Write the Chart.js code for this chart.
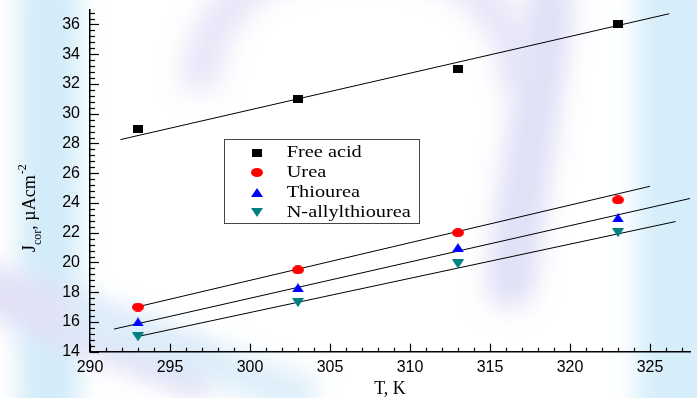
<!DOCTYPE html>
<html><head><meta charset="utf-8">
<script src="https://cdn.jsdelivr.net/npm/chart.js@4.4.1/dist/chart.umd.min.js"></script>
<style>
html,body{margin:0;padding:0;background:#fff;}
#wrap{position:relative;width:697px;height:398px;overflow:hidden;background:#fff;}
.bg{position:absolute;filter:blur(12px);}
canvas{position:absolute;left:0;top:0;}
</style></head>
<body><div id="wrap">
<div class="bg" style="left:18px;top:-30px;width:62px;height:460px;background:#d3ecf9;border-radius:30px;"></div>
<div class="bg" style="left:636px;top:-30px;width:80px;height:460px;background:#d6eefa;border-radius:30px;"></div>
<div class="bg" style="left:505px;top:-20px;width:50px;height:330px;background:#e0e0f7;border-radius:25px;transform:rotate(8deg);"></div>
<div class="bg" style="left:180px;top:-60px;width:280px;height:110px;border:40px solid #e4e4f8;border-bottom:none;border-radius:160px 160px 0 0;opacity:0.9;"></div>
<div class="bg" style="left:-40px;top:305px;width:260px;height:50px;background:#e2e0f6;transform:rotate(22deg);"></div>
<div class="bg" style="left:60px;top:335px;width:260px;height:40px;background:#dceef9;transform:rotate(20deg);"></div>
<canvas id="c" width="697" height="398"></canvas>
</div>
<script>
// ---- data ----
const temperatures = [293, 303, 313, 323];
const freeAcid = [29, 31, 33, 36];
const urea = [17, 19.5, 22, 24.2];
const thiourea = [16, 18.3, 21, 23];
const nAllylthiourea = [15, 17.3, 19.9, 22];
// fitted straight lines (endpoints)
const fitFreeAcidX = [291.9, 326.2];
const fitFreeAcidY = [28.26, 36.72];
const fitUreaX = [292.9, 325.0];
const fitUreaY = [17.0, 25.12];
const fitThioureaX = [291.5, 327.5];
const fitThioureaY = [15.52, 24.3];
const fitAllylX = [292.9, 326.6];
const fitAllylY = [15.0, 22.75];
const seriesNames = ['Free acid', 'Urea', 'Thiourea', 'N-allylthiourea'];
const xTickLabels = [290, 295, 300, 305, 310, 315, 320, 325];
const yTickLabels = [14, 16, 18, 20, 22, 24, 26, 28, 30, 32, 34, 36];

function marker(kind, color, w, h) {
  const c = document.createElement('canvas');
  c.width = w; c.height = h;
  const g = c.getContext('2d');
  g.fillStyle = color;
  g.beginPath();
  if (kind === 'square') g.rect(0, 0, w, h);
  else if (kind === 'circle') g.ellipse(w / 2, h / 2, w / 2, h / 2, 0, 0, Math.PI * 2);
  else if (kind === 'up') { g.moveTo(w / 2, 0); g.lineTo(w, h); g.lineTo(0, h); g.closePath(); }
  else { g.moveTo(0, 0); g.lineTo(w, 0); g.lineTo(w / 2, h); g.closePath(); }
  g.fill();
  return c;
}
const markers = [
  marker('square', '#000000', 10, 8),
  marker('circle', '#ff0000', 12, 9),
  marker('up', '#0000ff', 12, 9),
  marker('down', '#008080', 12, 9)
];
const pts = (xs, ys) => xs.map((x, i) => ({ x: x, y: ys[i] }));
const seriesValues = [freeAcid, urea, thiourea, nAllylthiourea];
const fits = [[fitFreeAcidX, fitFreeAcidY], [fitUreaX, fitUreaY], [fitThioureaX, fitThioureaY], [fitAllylX, fitAllylY]];

const datasets = [];
seriesValues.forEach((v, i) => datasets.push({
  label: seriesNames[i], data: pts(temperatures, v), pointStyle: markers[i],
  pointRadius: 6, showLine: false, order: 0
}));
fits.forEach((f, i) => datasets.push({
  label: 'fit ' + seriesNames[i], data: pts(f[0], f[1]), showLine: true,
  borderColor: '#000', borderWidth: 1, pointRadius: 0, order: 1
}));

const serif = '"Liberation Serif", "Times New Roman", serif';
const sans = '"Liberation Sans", Arial, sans-serif';

const decor = {
  id: 'decor',
  afterDraw(chart) {
    const ctx = chart.ctx, xs = chart.scales.x, ys = chart.scales.y;
    const a = chart.chartArea;
    ctx.save();
    ctx.strokeStyle = '#000'; ctx.lineWidth = 1.2;
    // x ticks (inside, upward)
    for (let v = 290; v <= 327; v++) {
      const px = Math.round(xs.getPixelForValue(v)) + 0.5;
      const len = (v % 5 === 0) ? 8 : 4;
      ctx.beginPath(); ctx.moveTo(px, a.bottom); ctx.lineTo(px, a.bottom - len); ctx.stroke();
    }
    // y ticks (inside, to the right)
    for (let k = 0; k <= 57; k++) {
      const v = 14 + 0.4 * k;
      const py = Math.round(ys.getPixelForValue(v)) + 0.5;
      const len = (k % 5 === 0) ? 9 : 5;
      ctx.beginPath(); ctx.moveTo(a.left, py); ctx.lineTo(a.left + len, py); ctx.stroke();
    }
    ctx.restore();

    // legend box
    ctx.save();
    ctx.fillStyle = '#fff';
    ctx.fillRect(224, 139, 195, 84);
    ctx.strokeStyle = '#444'; ctx.lineWidth = 1;
    ctx.strokeRect(224.5, 139.5, 195, 84);
    const rows = [152.7, 172.3, 192.3, 212.3];
    seriesNames.forEach((name, i) => {
      const m = markers[i];
      ctx.drawImage(m, Math.round(257 - m.width / 2), Math.round(rows[i] - m.height / 2));
      ctx.save();
      ctx.translate(286.7, rows[i] + 4.5);
      ctx.scale(1.27, 1);
      ctx.font = '16px ' + serif;
      ctx.fillStyle = '#000';
      ctx.textBaseline = 'alphabetic';
      ctx.fillText(name, 0, 0);
      ctx.restore();
    });
    ctx.restore();

    // y axis title with subscript / superscript
    ctx.save();
    ctx.translate(35, 252);
    ctx.rotate(-Math.PI / 2);
    ctx.fillStyle = '#000';
    ctx.textBaseline = 'alphabetic';
    let x = 0;
    ctx.font = '18px ' + serif; ctx.fillText('J', x, 0); x += ctx.measureText('J').width;
    ctx.font = '12px ' + serif; ctx.fillText('cor', x, 6); x += ctx.measureText('cor').width;
    ctx.font = '18px ' + serif; ctx.fillText(', \u00b5Acm', x, 0); x += ctx.measureText(', \u00b5Acm').width;
    ctx.font = '12px ' + serif; ctx.fillText('-2', x + 1, -9);
    ctx.restore();
  }
};

new Chart(document.getElementById('c'), {
  type: 'scatter',
  data: { datasets: datasets },
  options: {
    responsive: false, animation: false,
    layout: { padding: { top: 9.6, right: 6, bottom: 0, left: 0 } },
    plugins: { legend: { display: false }, tooltip: { enabled: false } },
    scales: {
      x: {
        type: 'linear', min: 290, max: 327.5,
        afterFit(s) { s.height = 46.3; },
        grid: { display: false, drawTicks: false, tickLength: 0 },
        border: { display: true, color: '#000', width: 1.5 },
        afterBuildTicks(s) { s.ticks = xTickLabels.map(v => ({ value: v })); },
        ticks: { color: '#000', font: { family: sans, size: 16 }, padding: 6, maxRotation: 0, autoSkip: false },
        title: { display: true, text: 'T, K', color: '#000', font: { family: serif, size: 18, lineHeight: 1 }, padding: { top: 0, bottom: 0 } }
      },
      y: {
        type: 'linear', min: 14, max: 37,
        afterFit(s) { s.width = 90; s.paddingTop = 0; s.paddingBottom = 0; },
        grid: { display: false, drawTicks: false, tickLength: 0 },
        border: { display: true, color: '#000', width: 1.5 },
        afterBuildTicks(s) { s.ticks = yTickLabels.map(v => ({ value: v })); },
        ticks: { color: '#000', font: { family: sans, size: 16 }, padding: 10, autoSkip: false }
      }
    }
  },
  plugins: [decor]
});
</script>
</body></html>
